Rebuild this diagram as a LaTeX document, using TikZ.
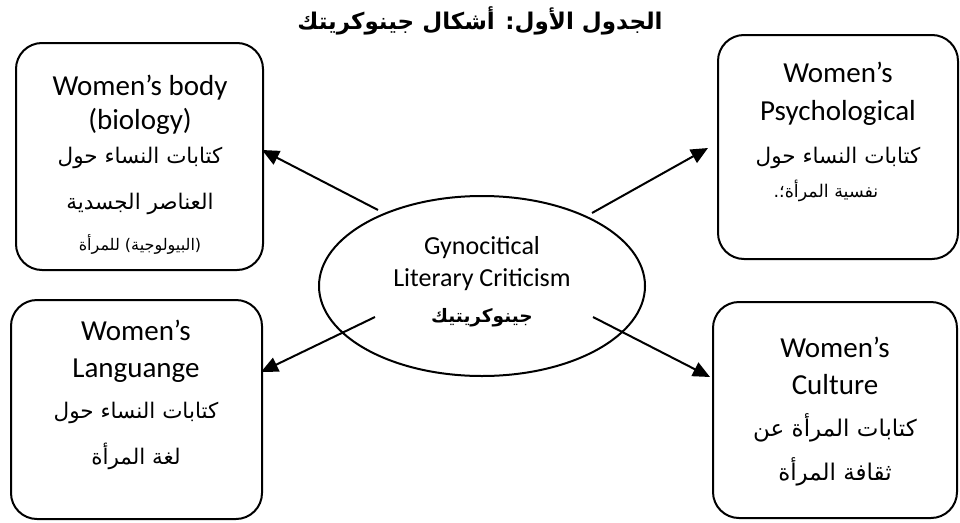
\documentclass[tikz,border=0pt]{standalone}
\usepackage{fontspec}
\setmainfont{Carlito}
\newfontfamily\arabicfont[Script=Arabic]{DejaVu Sans}
\TeXXeTstate=1
\usetikzlibrary{shapes.geometric,arrows.meta}
\begin{document}
\begin{tikzpicture}[x=1pt,y=-1pt,
  box/.style={draw,line width=2pt,rounded corners=26pt,inner sep=0pt},
  oval/.style={draw,ellipse,line width=2pt,inner sep=0pt},
  en/.style={font=\fontsize{29}{33}\selectfont,inner sep=0pt},
  enc/.style={font=\fontsize{26}{30}\selectfont,inner sep=0pt},
  ar/.style={font=\arabicfont\fontsize{21.5}{25}\selectfont,inner sep=0pt},
  armid/.style={font=\arabicfont\fontsize{17.5}{21}\selectfont,inner sep=0pt},
  arsmall/.style={font=\arabicfont\fontsize{16}{19}\selectfont,inner sep=0pt},
  arbig/.style={font=\arabicfont\fontsize{23}{27}\selectfont,inner sep=0pt},
  arrowline/.style={line width=2pt,-{Triangle[length=17pt,width=15pt]}}]
\useasboundingbox (0,0) rectangle (960,522);
% title
\node[font=\arabicfont\bfseries\fontsize{23}{27}\selectfont,inner sep=0pt] (title) at (480,21) {\beginR الجدول الأول: أشكال جينوكريتك\endR};
% boxes
\node[box,minimum width=247pt,minimum height=227pt] (b1) at (139.5,156.5) {};
\node[box,minimum width=240pt,minimum height=224pt] (b2) at (838,147) {};
\node[box,minimum width=251pt,minimum height=219pt] (b3) at (136.5,409.5) {};
\node[box,minimum width=244pt,minimum height=216pt] (b4) at (835,410) {};
\node[oval,minimum width=326pt,minimum height=180pt] (c) at (482,286) {};
% box 1 texts
\node[en] (b1a) at (140,88) {Women’s body};
\node[en] (b1b) at (140,121) {(biology)};
\node[ar] (b1c) at (140,158) {\beginR كتابات النساء حول\endR};
\node[ar] (b1d) at (140,204) {\beginR العناصر الجسدية\endR};
\node[arsmall] (b1e) at (140,244) {\beginR (البيولوجية) للمرأة\endR};
% box 2 texts
\node[en] (b2a) at (838,72) {Women’s};
\node[en] (b2b) at (838,113) {Psychological};
\node[ar] (b2c) at (838,158) {\beginR كتابات النساء حول\endR};
\node[armid] (b2d) at (826,191) {\beginR نفسية المرأة؛.\endR};
% box 3 texts
\node[en] (b3a) at (136,330) {Women’s};
\node[en] (b3b) at (136,371) {Languange};
\node[ar] (b3c) at (136,413) {\beginR كتابات النساء حول\endR};
\node[ar] (b3d) at (136,456) {\beginR لغة المرأة\endR};
% box 4 texts
\node[en] (b4a) at (835,347) {Women’s};
\node[en] (b4b) at (835,385) {Culture};
\node[arbig] (b4c) at (835,428) {\beginR كتابات المرأة عن\endR};
\node[arbig] (b4d) at (835,472) {\beginR ثقافة المرأة\endR};
% centre texts
\node[enc] (ca) at (482,248) {Gynocitical};
\node[enc] (cb) at (482,280) {Literary Criticism};
\node[font=\arabicfont\bfseries\fontsize{18.5}{22}\selectfont,inner sep=0pt] (cc) at (482,318) {\beginR جينوكريتيك\endR};
% arrows
\coordinate (s1) at (378,210);
\coordinate (t1) at (262,150);
\coordinate (s2) at (592,213);
\coordinate (t2) at (708,148);
\coordinate (s3) at (375,317);
\coordinate (t3) at (261,372);
\coordinate (s4) at (593,317);
\coordinate (t4) at (710,377);
\draw[arrowline] (s1) -- (t1);
\draw[arrowline] (s2) -- (t2);
\draw[arrowline] (s3) -- (t3);
\draw[arrowline] (s4) -- (t4);
\end{tikzpicture}
\end{document}
